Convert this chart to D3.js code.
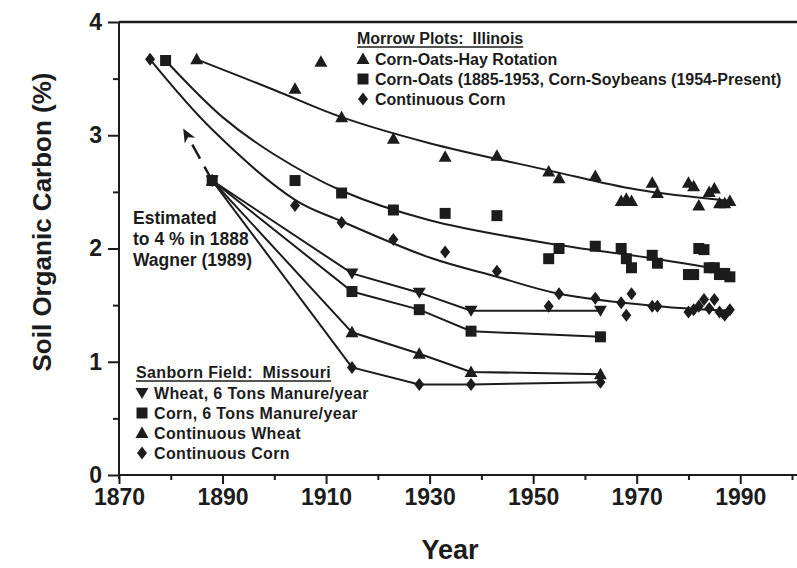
<!DOCTYPE html>
<html>
<head>
<meta charset="utf-8">
<script src="https://cdn.jsdelivr.net/npm/d3@7"></script>
<style>
  body { margin: 0; background: #fff; }
  svg { display: block; }
  text { font-family: "Liberation Sans", Arial, sans-serif; font-weight: bold; fill: #1c1c1c; white-space: pre; }
</style>
</head>
<body>
<svg id="chart" width="797" height="568"></svg>
<script>
// ---------- data (year, % soil organic carbon) ----------
// Morrow Plots, Illinois
const rotationPts = [[1885,3.67],[1904,3.41],[1909,3.65],[1913,3.16],[1923,2.97],[1933,2.81],[1943,2.82],[1953,2.68],[1955,2.62],[1962,2.64],[1967,2.42],[1968,2.44],[1969,2.42],[1973,2.58],[1974,2.49],[1980,2.58],[1981,2.55],[1982,2.38],[1984,2.50],[1985,2.53],[1986,2.40],[1987,2.40],[1988,2.42]];
const rotationFit = [[1885,3.67],[1900,3.40],[1913,3.16],[1930,2.93],[1953,2.69],[1970,2.52],[1988,2.42]];

const cornOatsPts = [[1879,3.66],[1904,2.60],[1913,2.49],[1923,2.34],[1933,2.31],[1943,2.29],[1953,1.91],[1955,2.00],[1962,2.02],[1967,2.00],[1968,1.91],[1969,1.83],[1973,1.94],[1974,1.87],[1980,1.77],[1981,1.77],[1982,2.00],[1983,1.99],[1984,1.83],[1985,1.83],[1986,1.77],[1987,1.78],[1988,1.75]];
const cornOatsFit = [[1879,3.66],[1890,3.16],[1900,2.83],[1913,2.51],[1930,2.25],[1955,2.03],[1972,1.92],[1988,1.80]];

const morrowCornPts = [[1876,3.67],[1904,2.38],[1913,2.23],[1923,2.08],[1933,1.97],[1943,1.80],[1953,1.49],[1955,1.60],[1962,1.56],[1967,1.52],[1968,1.41],[1969,1.60],[1973,1.49],[1974,1.49],[1980,1.44],[1981,1.46],[1982,1.49],[1983,1.55],[1984,1.47],[1985,1.55],[1986,1.44],[1987,1.41],[1988,1.46]];
const morrowCornFit = [[1876,3.67],[1888,3.05],[1904,2.43],[1913,2.24],[1930,1.92],[1943,1.75],[1955,1.60],[1974,1.49],[1988,1.45]];

// Sanborn Field, Missouri
const wheatManure = [[1888,2.60],[1915,1.78],[1928,1.61],[1938,1.45],[1963,1.45]];
const cornManure  = [[1888,2.60],[1915,1.62],[1928,1.46],[1938,1.27],[1963,1.22]];
const contWheat   = [[1888,2.60],[1915,1.26],[1928,1.07],[1938,0.91],[1963,0.89]];
const sanbornCorn = [[1888,2.60],[1915,0.95],[1928,0.80],[1938,0.80],[1963,0.82]];

// dashed estimate arrow (from 1888 start value up toward 4 %)
const estimateArrow = [[1888,2.60],[1882.4,3.06]];

const xTicksMajor = [1870,1890,1910,1930,1950,1970,1990];
const xTicksMinor = [1880,1900,1920,1940,1960,1980,2000];
const yTicksMajor = [0,1,2,3,4];
const yTicksMinor = [0.5,1.5,2.5,3.5];

const morrowLegend = ['Corn-Oats-Hay Rotation', 'Corn-Oats (1885-1953, Corn-Soybeans (1954-Present)', 'Continuous Corn'];
const sanbornLegend = ['Wheat, 6 Tons Manure/year', 'Corn, 6 Tons Manure/year', 'Continuous Wheat', 'Continuous Corn'];
const noteLines = ['Estimated', 'to 4 % in 1888', 'Wagner (1989)'];

// ---------- setup ----------
const svg = d3.select('#chart');
const ink = '#1c1c1c';

const x = d3.scaleLinear().domain([1870, 2000]).range([119, 792]);
const y = d3.scaleLinear().domain([0, 4]).range([475, 22]);

// marker shapes
function shape(type) {
  if (type === 'up') return 'M0,-6.5L6.5,5L-6.5,5Z';
  if (type === 'down') return 'M0,6L6.5,-5L-6.5,-5Z';
  if (type === 'square') return 'M-5.5,-5.5H5.5V5.5H-5.5Z';
  return 'M0,-6.5L5,0L0,6.5L-5,0Z'; // diamond
}

// ---------- axes ----------
const axisG = svg.append('g');

const xMinor = d3.axisBottom(x).tickValues(xTicksMinor).tickSize(5).tickFormat('').tickSizeOuter(0);
const xMajor = d3.axisBottom(x).tickValues(xTicksMajor).tickSize(9).tickPadding(5).tickFormat(d3.format('d')).tickSizeOuter(0);
const yMinor = d3.axisLeft(y).tickValues(yTicksMinor).tickSize(6).tickFormat('').tickSizeOuter(0);
const yMajor = d3.axisLeft(y).tickValues(yTicksMajor).tickSize(11).tickPadding(6).tickFormat(d3.format('d')).tickSizeOuter(0);

[[xMinor, 'x'], [xMajor, 'x'], [yMinor, 'y'], [yMajor, 'y']].forEach(([ax, dir]) => {
  const g = axisG.append('g')
    .attr('transform', dir === 'x' ? `translate(0,${y(0)})` : `translate(${x(1870)},0)`)
    .call(ax);
  g.select('.domain').remove();
  g.selectAll('line').attr('stroke', ink).attr('stroke-width', 2);
  g.selectAll('text')
    .attr('font-size', 23)
    .attr('fill', ink)
    .style('font-family', '"Liberation Sans", Arial, sans-serif')
    .style('font-weight', 'bold');
});

// axis lines + top frame
axisG.append('line').attr('x1', x(1870)).attr('x2', 797).attr('y1', y(0)).attr('y2', y(0))
  .attr('stroke', ink).attr('stroke-width', 2);
axisG.append('line').attr('x1', x(1870)).attr('x2', x(1870)).attr('y1', y(4)).attr('y2', y(0) + 4)
  .attr('stroke', ink).attr('stroke-width', 2);
axisG.append('line').attr('x1', x(1870)).attr('x2', 797).attr('y1', y(4)).attr('y2', y(4))
  .attr('stroke', ink).attr('stroke-width', 2.5);

// axis titles
svg.append('text')
  .attr('transform', `translate(51,222) rotate(-90)`)
  .attr('text-anchor', 'middle')
  .attr('font-size', 26)
  .text('Soil Organic Carbon (%)');

svg.append('text')
  .attr('x', 450).attr('y', 559)
  .attr('text-anchor', 'middle')
  .attr('font-size', 27)
  .text('Year');

// ---------- lines ----------
const smooth = d3.line().x(d => x(d[0])).y(d => y(d[1])).curve(d3.curveCatmullRom.alpha(0.5));
const straight = d3.line().x(d => x(d[0])).y(d => y(d[1]));

const lineG = svg.append('g').attr('fill', 'none').attr('stroke', ink).attr('stroke-width', 2);
[rotationFit, cornOatsFit, morrowCornFit].forEach(d => lineG.append('path').attr('d', smooth(d)));
[wheatManure, cornManure, contWheat, sanbornCorn].forEach(d => lineG.append('path').attr('d', straight(d)));

// dashed estimate arrow
const ax0 = estimateArrow[0], ax1 = estimateArrow[1];
const ang = Math.atan2(y(ax1[1]) - y(ax0[1]), x(ax1[0]) - x(ax0[0]));
const headLen = 14;
const bx = x(ax1[0]) - headLen * Math.cos(ang), by = y(ax1[1]) - headLen * Math.sin(ang);
svg.append('line')
  .attr('x1', x(ax0[0])).attr('y1', y(ax0[1]))
  .attr('x2', bx).attr('y2', by)
  .attr('stroke', ink).attr('stroke-width', 2.5)
  .attr('stroke-dasharray', '16,9');
const tipX = x(ax1[0]), tipY = y(ax1[1]);
const wing = 6;
svg.append('path')
  .attr('d', `M${tipX},${tipY}` +
    `L${bx + wing * Math.sin(ang)},${by - wing * Math.cos(ang)}` +
    `L${bx + 4 * Math.cos(ang)},${by + 4 * Math.sin(ang)}` +
    `L${bx - wing * Math.sin(ang)},${by + wing * Math.cos(ang)}Z`)
  .attr('fill', ink);

// ---------- markers ----------
const markG = svg.append('g').attr('fill', ink);
function plotMarks(data, type) {
  markG.selectAll(null)
    .data(data)
    .join('path')
    .attr('transform', d => `translate(${x(d[0])},${y(d[1])})`)
    .attr('d', shape(type));
}
plotMarks(rotationPts, 'up');
plotMarks(cornOatsPts, 'square');
plotMarks(morrowCornPts, 'diamond');
plotMarks(wheatManure, 'down');
plotMarks(cornManure, 'square');
plotMarks(contWheat, 'up');
plotMarks(sanbornCorn, 'diamond');

// ---------- legends ----------
function legend(title, items, types, lx, ty, rowH, fs, ls) {
  const g = svg.append('g').attr('letter-spacing', ls);
  const t = g.append('text').attr('x', lx).attr('y', ty).attr('font-size', fs).text(title);
  const w = t.node().getComputedTextLength();
  g.append('line').attr('x1', lx).attr('x2', lx + w).attr('y1', ty + 3).attr('y2', ty + 3)
    .attr('stroke', ink).attr('stroke-width', 1.5);
  items.forEach((label, i) => {
    const cy = ty - 5 + rowH * (i + 1);
    g.append('path').attr('transform', `translate(${lx + 6},${cy})`).attr('d', shape(types[i])).attr('fill', ink);
    g.append('text').attr('x', lx + 18).attr('y', cy + 6).attr('font-size', fs).text(label);
  });
}
legend('Morrow Plots:  Illinois', morrowLegend, ['up', 'square', 'diamond'], 357, 44, 20, 16, 0);
legend('Sanborn Field:  Missouri', sanbornLegend, ['down', 'square', 'up', 'diamond'], 136, 378, 20, 16, 0.35);

// annotation
svg.append('text')
  .attr('font-size', 17.5)
  .selectAll('tspan')
  .data(noteLines)
  .join('tspan')
  .attr('x', 133)
  .attr('y', (d, i) => 224 + i * 21)
  .text(d => d);
</script>
</body>
</html>
